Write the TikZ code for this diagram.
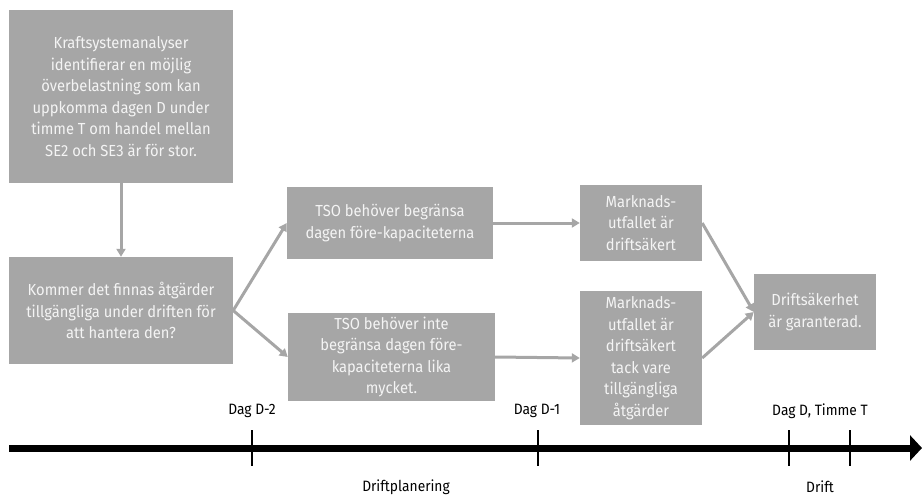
\documentclass[tikz,border=0pt]{standalone}
\usepackage{fontspec}
\setmainfont{Fira Sans}[FakeStretch=0.92]
\usetikzlibrary{arrows.meta}
\definecolor{boxgray}{HTML}{A6A6A6}
\definecolor{txtw}{HTML}{F4F4F4}
\tikzset{
  box/.style={fill=boxgray, draw=none, inner sep=0pt, align=center, text=txtw,
    font=\fontsize{16}{21.5}\selectfont},
  flow/.style={draw=boxgray, line width=3pt, -{Triangle[length=8pt,width=9pt]}},
  tick/.style={draw=black, line width=1.8pt},
  lbl/.style={font=\fontsize{15}{17}\selectfont, text=black, inner sep=0pt},
}
\begin{document}
\begin{tikzpicture}[x=1pt,y=-1pt]
\useasboundingbox (0,0) rectangle (922,496);
\node[box, minimum width=224pt, minimum height=173pt] (b1) at (121,96.5)
  {Kraftsystemanalyser\\identifierar en möjlig\\överbelastning som kan\\uppkomma dagen D under\\timme T om handel mellan\\SE2 och SE3 är för stor.};
\node[box, minimum width=224pt, minimum height=107pt] (b2) at (121,310.5)
  {Kommer det finnas åtgärder\\tillgängliga under driften för\\att hantera den?};
\node[box, minimum width=206pt, minimum height=72pt] (b3) at (390,223)
  {TSO behöver begränsa\\dagen före-kapaciteterna};
\node[box, minimum width=207pt, minimum height=88pt] (b4) at (391.5,357)
  {TSO behöver inte\\begränsa dagen före-\\kapaciteterna lika\\mycket.};
\node[box, minimum width=122pt, minimum height=76pt] (b5) at (641,223)
  {Marknads-\\utfallet är\\driftsäkert};
\node[box, minimum width=122pt, minimum height=134pt] (b6) at (641,358)
  {Marknads-\\utfallet är\\driftsäkert\\tack vare\\tillgängliga\\åtgärder};
\node[box, minimum width=122pt, minimum height=76pt] (b7) at (815,312)
  {Driftsäkerhet\\är garanterad.};

\draw[flow] (b1.south) -- (b2.north);
\draw[flow] (b2.east) -- (b3.west);
\draw[flow] (b2.east) -- (b4.west);
\draw[flow] (b3.east) -- (b5.west);
\draw[flow] (b4.east) -- (b6.west);
\draw[flow] (b5.east) -- (b7.west);
\draw[flow] (b6.east) -- (b7.west);

% timeline
\coordinate (t0) at (9,448);
\coordinate (t1) at (922,448);
\draw[line width=7pt, -{Triangle[length=12pt,width=25pt]}] (t0) -- (t1);
\coordinate (k1a) at (252,430); \coordinate (k1b) at (252,466);
\coordinate (k2a) at (538,430); \coordinate (k2b) at (538,466);
\coordinate (k3a) at (789,430); \coordinate (k3b) at (789,466);
\coordinate (k4a) at (850,430); \coordinate (k4b) at (850,466);
\draw[tick] (k1a) -- (k1b);
\draw[tick] (k2a) -- (k2b);
\draw[tick] (k3a) -- (k3b);
\draw[tick] (k4a) -- (k4b);

\node[lbl] (l1) at (252,411) {Dag D-2};
\node[lbl] (l2) at (537,411) {Dag D-1};
\node[lbl] (l3) at (820,411) {Dag D, Timme T};
\node[lbl] (l4) at (406,487) {Driftplanering};
\node[lbl] (l5) at (820,487) {Drift};
\end{tikzpicture}
\end{document}
